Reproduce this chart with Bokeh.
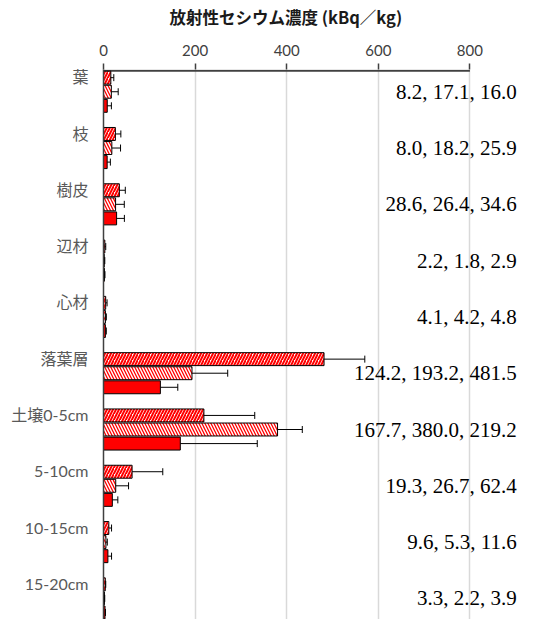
from bokeh.plotting import figure
from bokeh.models import (ColumnDataSource, Range1d, FixedTicker, Whisker,
                          TeeHead, LabelSet, Title)
from bokeh.core.properties import value
from bokeh.embed import file_html
from bokeh.resources import INLINE

# ---- data ----
categories = ["葉", "枝", "樹皮", "辺材", "心材", "落葉層", "土壌0-5cm",
              "5-10cm", "10-15cm", "15-20cm"]
series_solid = [8.2, 8.0, 28.6, 2.2, 4.1, 124.2, 167.7, 19.3, 9.6, 3.3]
series_light = [17.1, 18.2, 26.4, 1.8, 4.2, 193.2, 380.0, 26.7, 5.3, 2.2]
series_dense = [16.0, 25.9, 34.6, 2.9, 4.8, 481.5, 219.2, 62.4, 11.6, 3.9]
err_solid = [9, 7, 17, 1, 2, 38, 168, 12, 8, 1]
err_light = [15, 19, 19, 1, 2, 78, 54, 28, 3, 0.5]
err_dense = [6.5, 12, 13, 2, 3, 89, 111, 67, 6, 1]
x_ticks = [0, 200, 400, 600, 800]
title_text = "放射性セシウム濃度 (kBq／kg)"

# ---- layout helpers ----
UNIT = 100          # data units per category band
BAR_H = 23
n = len(categories)
base = [i * UNIT for i in range(n)]

p = figure(width=534, height=619, output_backend="svg", toolbar_location=None,
           x_range=Range1d(0, 941), y_range=Range1d(975, -2),
           x_axis_location="above",
           min_border_left=103, min_border_right=0,
           min_border_top=69, min_border_bottom=0)
p.outline_line_color = None
p.background_fill_color = "white"

# title
p.title.text = title_text
p.title.align = "left"
p.title.offset = 66
p.title.text_font = "Noto Sans CJK JP"
p.title.text_font_style = "bold"
p.title.text_font_size = "16.5px"
p.title.text_color = "#1a1a1a"
p.title.standoff = 0

# blank spacer between the title and the tick labels
p.add_layout(Title(text=" ", text_font="Lato", text_font_size="6px",
                   standoff=4), "above")

# grid
p.xgrid.ticker = FixedTicker(ticks=x_ticks[1:])
p.xgrid.grid_line_color = "#d9d9d9"
p.xgrid.grid_line_width = 1.5
p.ygrid.grid_line_color = None

# top axis line limited to the value scale
p.segment(x0=[x_ticks[0]], x1=[x_ticks[-1]], y0=[0], y1=[0],
          line_color="#404040", line_width=2)

# bars
src_dense = ColumnDataSource(dict(y=[b + 12.5 for b in base], v=series_dense,
                                  lo=series_dense,
                                  hi=[a + e for a, e in zip(series_dense, err_dense)]))
src_light = ColumnDataSource(dict(y=[b + 37.5 for b in base], v=series_light,
                                  lo=series_light,
                                  hi=[a + e for a, e in zip(series_light, err_light)]))
src_solid = ColumnDataSource(dict(y=[b + 62.5 for b in base], v=series_solid,
                                  lo=series_solid,
                                  hi=[a + e for a, e in zip(series_solid, err_solid)]))

p.hbar(y="y", right="v", left=0, height=BAR_H, source=src_dense,
       fill_color="white", line_color="black", line_width=1,
       hatch_pattern="right_diagonal_line", hatch_color="#ff0000",
       hatch_scale=6, hatch_weight=2.0)
p.hbar(y="y", right="v", left=0, height=BAR_H, source=src_light,
       fill_color="white", line_color="black", line_width=1,
       hatch_pattern="left_diagonal_line", hatch_color="#ff0000",
       hatch_scale=6, hatch_weight=1.3)
p.hbar(y="y", right="v", left=0, height=BAR_H, source=src_solid,
       fill_color="#ff0000", line_color="black", line_width=1)

for src in (src_dense, src_light, src_solid):
    w = Whisker(dimension="width", base="y", lower="lo", upper="hi", source=src,
                line_color="black", line_width=1,
                upper_head=TeeHead(size=7, line_color="black", line_width=1),
                lower_head=None, level="overlay")
    p.add_layout(w)

# value labels at the right
lab_src = ColumnDataSource(dict(
    x=[902] * n,
    y=[b + 37.5 for b in base],
    t=[f"{a:.1f}, {b:.1f}, {c:.1f}" for a, b, c in
       zip(series_solid, series_light, series_dense)]))
p.add_layout(LabelSet(x="x", y="y", text="t", source=lab_src,
                      text_align="right", text_baseline="middle",
                      text_font=value("Liberation Serif"),
                      text_font_size="21px", text_color="black"))

# x axis (top)
xa = p.xaxis[0]
xa.ticker = FixedTicker(ticks=x_ticks)
xa.axis_line_color = None
xa.major_tick_line_color = "#404040"
xa.major_tick_line_width = 1.5
xa.major_tick_out = 6
xa.major_tick_in = 0
xa.minor_tick_line_color = None
xa.major_label_standoff = 8
xa.major_label_text_font = "Lato"
xa.major_label_text_font_size = "15px"
xa.major_label_text_color = "#404040"

# y axis (left)
ya = p.yaxis[0]
tick_pos = [b + 11 for b in base]
ya.ticker = FixedTicker(ticks=tick_pos)
ya.major_label_overrides = {t: c for t, c in zip(tick_pos, categories)}
ya.axis_line_color = "#404040"
ya.axis_line_width = 1.5
ya.major_tick_line_color = None
ya.minor_tick_line_color = None
ya.major_tick_out = 0
ya.major_tick_in = 0
ya.major_label_standoff = 15
ya.major_label_text_font = "Lato, 'Noto Sans CJK JP'"
ya.major_label_text_font_size = "16px"
ya.major_label_text_color = "#595959"

open("out.html", "w").write(file_html(p, INLINE))
